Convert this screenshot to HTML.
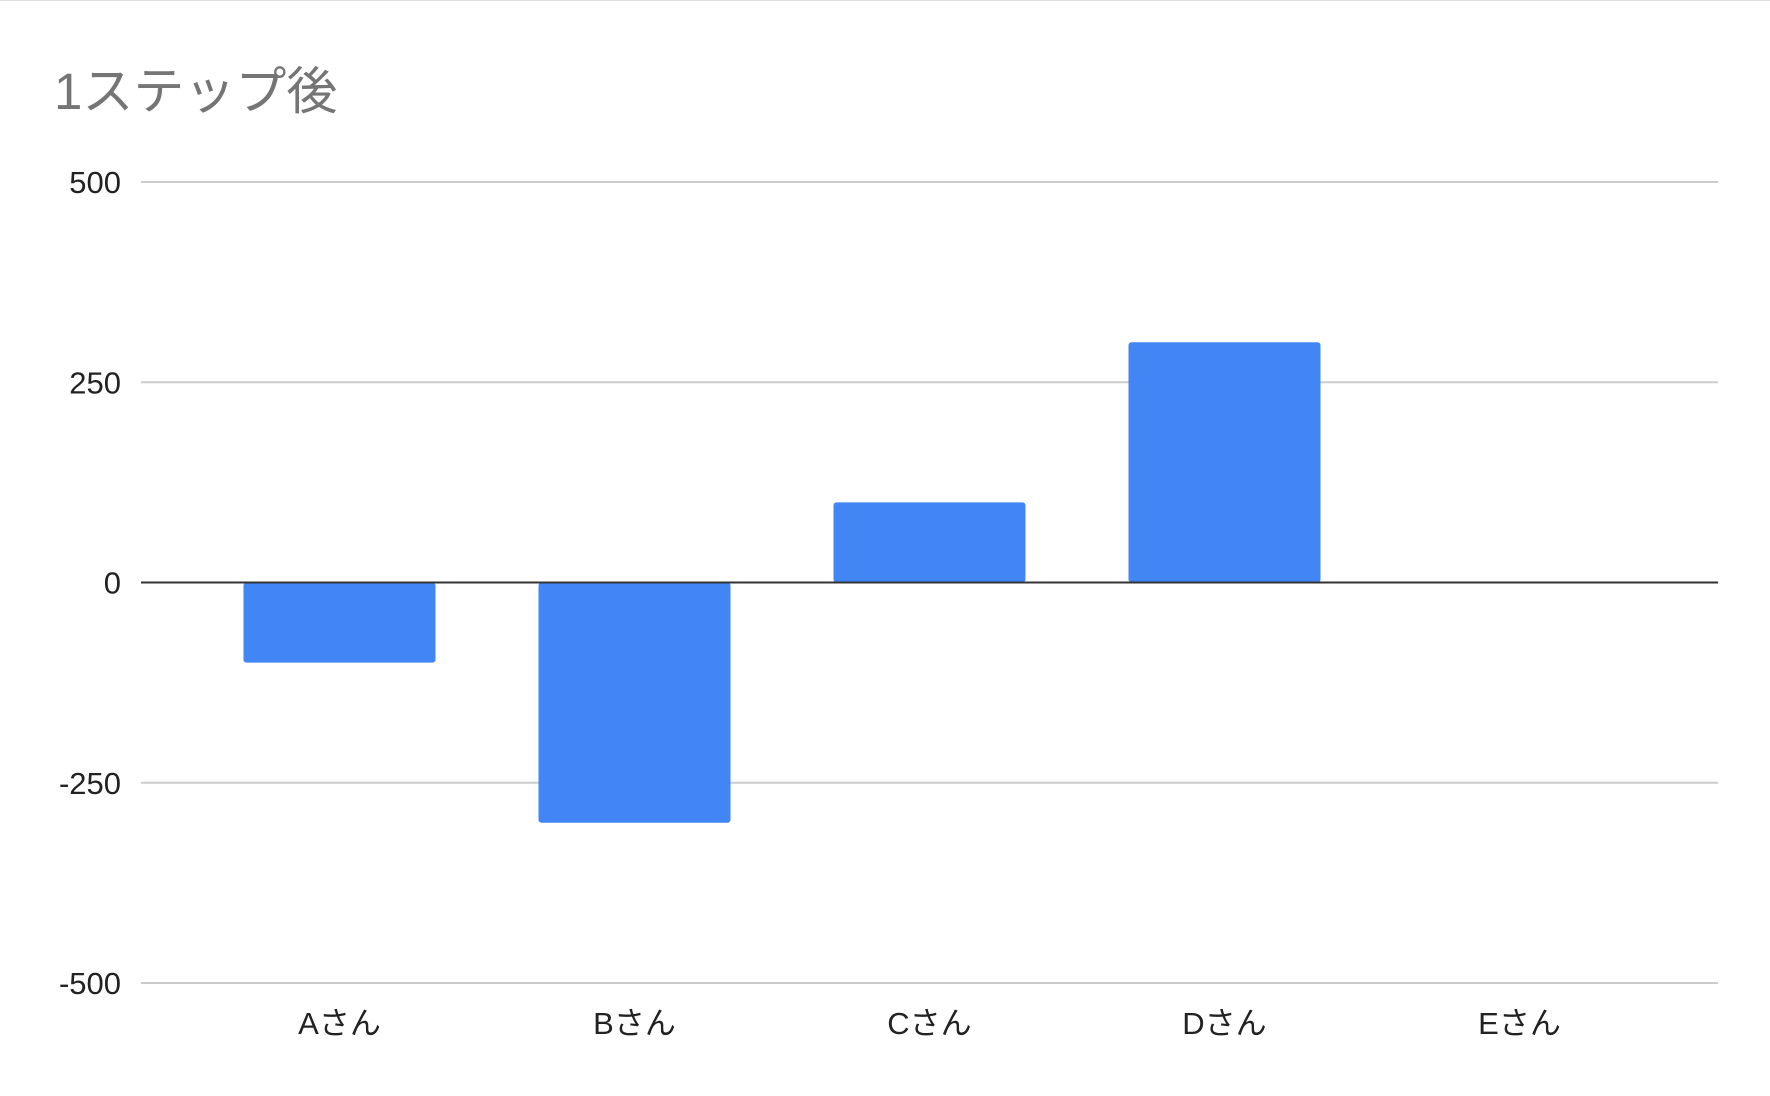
<!DOCTYPE html>
<html><head><meta charset="utf-8"><style>
html,body{margin:0;padding:0;background:#fff;}
svg{display:block;font-family:"Liberation Sans","Noto Sans CJK JP",sans-serif;}
</style></head><body>
<svg id="chart" width="1770" height="1096">
<rect x="0" y="0" width="1770" height="1096" fill="#fff"/>
<line x1="0" y1="0.5" x2="1770" y2="0.5" stroke="#ddd"/>
<text x="54" y="109" font-size="51" fill="#757575">1ステップ後</text>
<g id="grid"></g><g id="bars"></g><g id="zero"></g><g id="labels"></g>
</svg>
<script>
const categories = ["Aさん","Bさん","Cさん","Dさん","Eさん"];
const values = [-100, -300, 100, 300, 0];
const ticks = [500, 250, 0, -250, -500];
const NS = "http://www.w3.org/2000/svg";
const plotL = 141, plotR = 1718, yTop = 182, yBot = 983;
const bandStart = 192, band = 295, barW = 192;
function y(v){ return yTop + (500 - v) / 1000 * (yBot - yTop); }
function xc(i){ return bandStart + band * (i + 0.5); }
function mk(tag, attrs, parent){ const e = document.createElementNS(NS, tag); for (const k in attrs) e.setAttribute(k, attrs[k]); document.getElementById(parent).appendChild(e); return e; }
ticks.forEach(t => {
  if (t !== 0) {
    const l = mk("line", {x1: plotL, x2: plotR, y1: y(t), y2: y(t), stroke: "#cccccc", "stroke-width": 2}, "grid");
    
    
  }
  const tx = mk("text", {x: 121, y: y(t) + 11, "text-anchor": "end", "font-size": 31, fill: "#222"}, "labels");
  tx.textContent = t;
  
  
});
values.forEach((v, i) => {
  if (v !== 0) {
    const top = Math.min(y(v), y(0)), h = Math.abs(y(v) - y(0));
    const r = mk("rect", {x: xc(i) - barW / 2, y: top, width: barW, height: h, rx: 3, fill: "#4285f4"}, "bars");
    
    
  }
  const tx = mk("text", {x: xc(i), y: 1034, "text-anchor": "middle", "font-size": 31, fill: "#222"}, "labels");
  tx.textContent = categories[i];
  
  
});
const z = mk("line", {x1: plotL, x2: plotR, y1: y(0), y2: y(0), stroke: "#333", "stroke-width": 2}, "zero");


</script>
</body></html>
